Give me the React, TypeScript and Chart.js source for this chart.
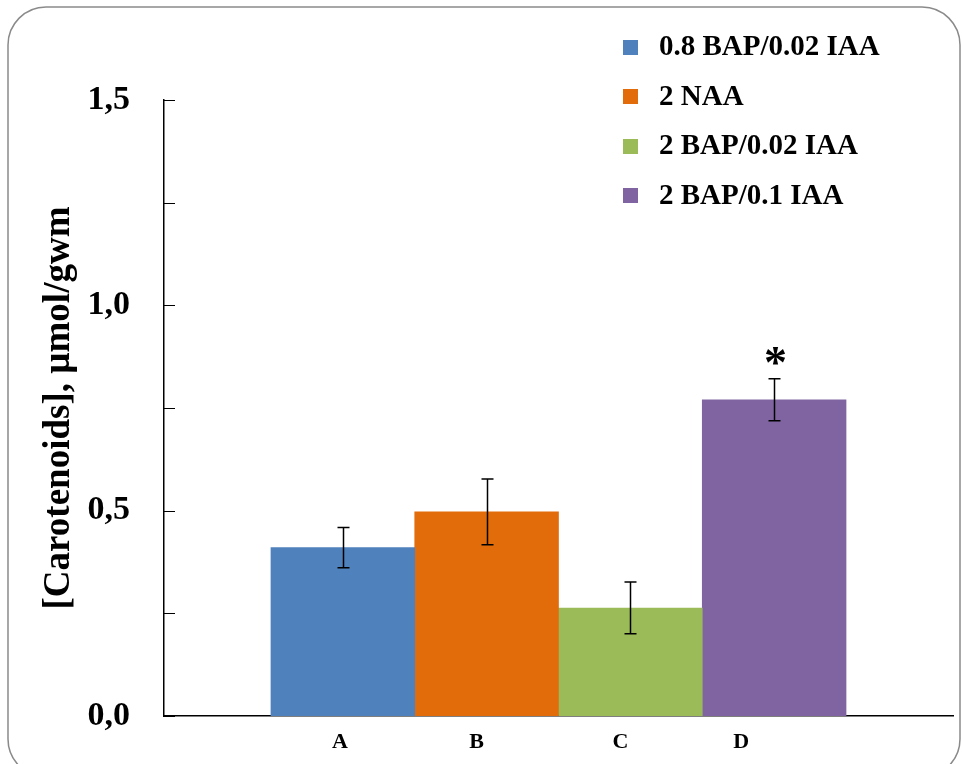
import { useEffect, useRef } from 'react';
import { Chart, registerables } from 'chart.js';

Chart.register(...registerables);

const CATEGORIES = ['A', 'B', 'C', 'D'];
const SERIES = ['0.8 BAP/0.02 IAA', '2 NAA', '2 BAP/0.02 IAA', '2 BAP/0.1 IAA'];
const VALUES = [0.41, 0.497, 0.263, 0.77];
const ERRORS = [0.049, 0.08, 0.063, 0.051];
const SIGNIFICANT = [false, false, false, true];
const COLORS = ['#4F81BD', '#E36C0A', '#9BBB59', '#8064A2'];
const Y_TITLE = '[Carotenoids], µmol/gwm';
// positions of category labels along the x axis (in bar units)
const TICK_X = [0.98, 1.93, 2.93, 3.77];

const FONT = '"Liberation Serif", "Times New Roman", serif';
const X_MIN = -0.244;
const X_MAX = 5.244;

const framePlugin = {
  id: 'frame',
  beforeDraw(chart: any) {
    const ctx = chart.ctx;
    ctx.save();
    ctx.strokeStyle = '#8a8a8a';
    ctx.lineWidth = 1.5;
    ctx.beginPath();
    ctx.roundRect(8, 7, 952, 770, 38);
    ctx.stroke();
    ctx.restore();
  },
};

const yTickPlugin = {
  id: 'yTicksInside',
  afterDraw(chart: any) {
    const ctx = chart.ctx;
    const y = chart.scales.y;
    const left = chart.chartArea.left;
    ctx.save();
    ctx.strokeStyle = '#000';
    ctx.lineWidth = 1;
    y.ticks.forEach((t: any) => {
      const py = Math.round(y.getPixelForValue(t.value)) + 0.5;
      ctx.beginPath();
      ctx.moveTo(left, py);
      ctx.lineTo(left + 11, py);
      ctx.stroke();
    });
    ctx.restore();
  },
};

const errorBarPlugin = {
  id: 'errorBars',
  afterDatasetsDraw(chart: any) {
    const ctx = chart.ctx;
    const y = chart.scales.y;
    ctx.save();
    chart.data.datasets.forEach((_ds: any, i: number) => {
      const meta = chart.getDatasetMeta(i);
      const bar = meta.data[0];
      if (!bar) return;
      const x = Math.round(bar.x) + 0.5;
      const top = y.getPixelForValue(VALUES[i] + ERRORS[i]);
      const bottom = y.getPixelForValue(VALUES[i] - ERRORS[i]);
      ctx.strokeStyle = '#000';
      ctx.lineWidth = 1.5;
      ctx.beginPath();
      ctx.moveTo(x, top);
      ctx.lineTo(x, bottom);
      ctx.moveTo(x - 6, top);
      ctx.lineTo(x + 6, top);
      ctx.moveTo(x - 6, bottom);
      ctx.lineTo(x + 6, bottom);
      ctx.stroke();
      if (SIGNIFICANT[i]) {
        ctx.fillStyle = '#000';
        ctx.font = `bold 46px ${FONT}`;
        ctx.textAlign = 'center';
        ctx.textBaseline = 'alphabetic';
        ctx.fillText('*', x + 1, top - 1);
      }
    });
    ctx.restore();
  },
};

const legendPlugin = {
  id: 'customLegend',
  afterDraw(chart: any) {
    const ctx = chart.ctx;
    ctx.save();
    ctx.font = `bold 29px ${FONT}`;
    ctx.textAlign = 'left';
    ctx.textBaseline = 'middle';
    chart.data.datasets.forEach((ds: any, i: number) => {
      const cy = 47 + i * 49.5;
      ctx.fillStyle = ds.backgroundColor;
      ctx.fillRect(623, Math.round(cy - 7.5), 15, 15);
      ctx.fillStyle = '#000';
      ctx.fillText(ds.label, 659, cy + 1);
    });
    ctx.restore();
  },
};

export default function App() {
  const ref = useRef<HTMLCanvasElement | null>(null);

  useEffect(() => {
    if (!ref.current) return;
    const chart = new Chart(ref.current, {
      type: 'bar',
      data: {
        datasets: SERIES.map((name, i) => ({
          label: name,
          data: [{ x: i + 1, y: VALUES[i] }],
          backgroundColor: COLORS[i],
          borderWidth: 0,
          grouped: false,
          barPercentage: 1,
          categoryPercentage: 1,
          xAxisID: 'x',
        })),
      },
      options: {
        animation: false,
        responsive: false,
        layout: { padding: { left: 0, right: 9, top: 100, bottom: 0 } },
        plugins: {
          legend: { display: false },
          tooltip: { enabled: false },
        },
        scales: {
          x: {
            type: 'linear',
            position: 'bottom',
            offset: false,
            min: X_MIN,
            max: X_MAX,
            grid: { display: false, drawTicks: false },
            border: { display: true, color: '#000', width: 1.5 },
            afterBuildTicks: (s: any) => {
              s.ticks = VALUES.map((_v, i) => ({ value: i + 1 }));
            },
            afterFit: (s: any) => {
              s.height = 0;
            },
            ticks: { display: false },
          },
          xl: {
            type: 'linear',
            position: 'bottom',
            offset: false,
            min: X_MIN,
            max: X_MAX,
            grid: { display: false, drawTicks: false },
            border: { display: false },
            afterBuildTicks: (s: any) => {
              s.ticks = TICK_X.map((v) => ({ value: v }));
            },
            afterFit: (s: any) => {
              s.height = 48;
            },
            ticks: {
              autoSkip: false,
              maxRotation: 0,
              padding: 13,
              color: '#000',
              font: { family: FONT, size: 22, weight: 'bold' },
              callback: (_v: any, i: number) => CATEGORIES[i] ?? '',
            },
          },
          y: {
            min: 0,
            max: 1.5,
            grid: { display: false, drawTicks: true, tickLength: 32 },
            border: { display: true, color: '#000', width: 1.5 },
            afterFit: (s: any) => {
              s.width = 164;
            },
            title: {
              display: true,
              text: Y_TITLE,
              color: '#000',
              font: { family: FONT, size: 37, weight: 'bold' },
              padding: { top: 37, bottom: 0 },
            },
            ticks: {
              stepSize: 0.25,
              padding: 2,
              color: '#000',
              font: { family: FONT, size: 34, weight: 'bold' },
              callback: (v: any) => {
                const n = Number(v);
                return Math.abs(n * 2 - Math.round(n * 2)) < 1e-9
                  ? n.toFixed(1).replace('.', ',')
                  : '';
              },
            },
          },
        },
      },
      plugins: [framePlugin, yTickPlugin, errorBarPlugin, legendPlugin],
    } as any);
    return () => chart.destroy();
  }, []);

  return (
    <div style={{ position: 'fixed', left: 0, top: 0, width: 962, height: 764, background: '#fff' }}>
      <canvas ref={ref} width={962} height={764} style={{ display: 'block' }} />
    </div>
  );
}
